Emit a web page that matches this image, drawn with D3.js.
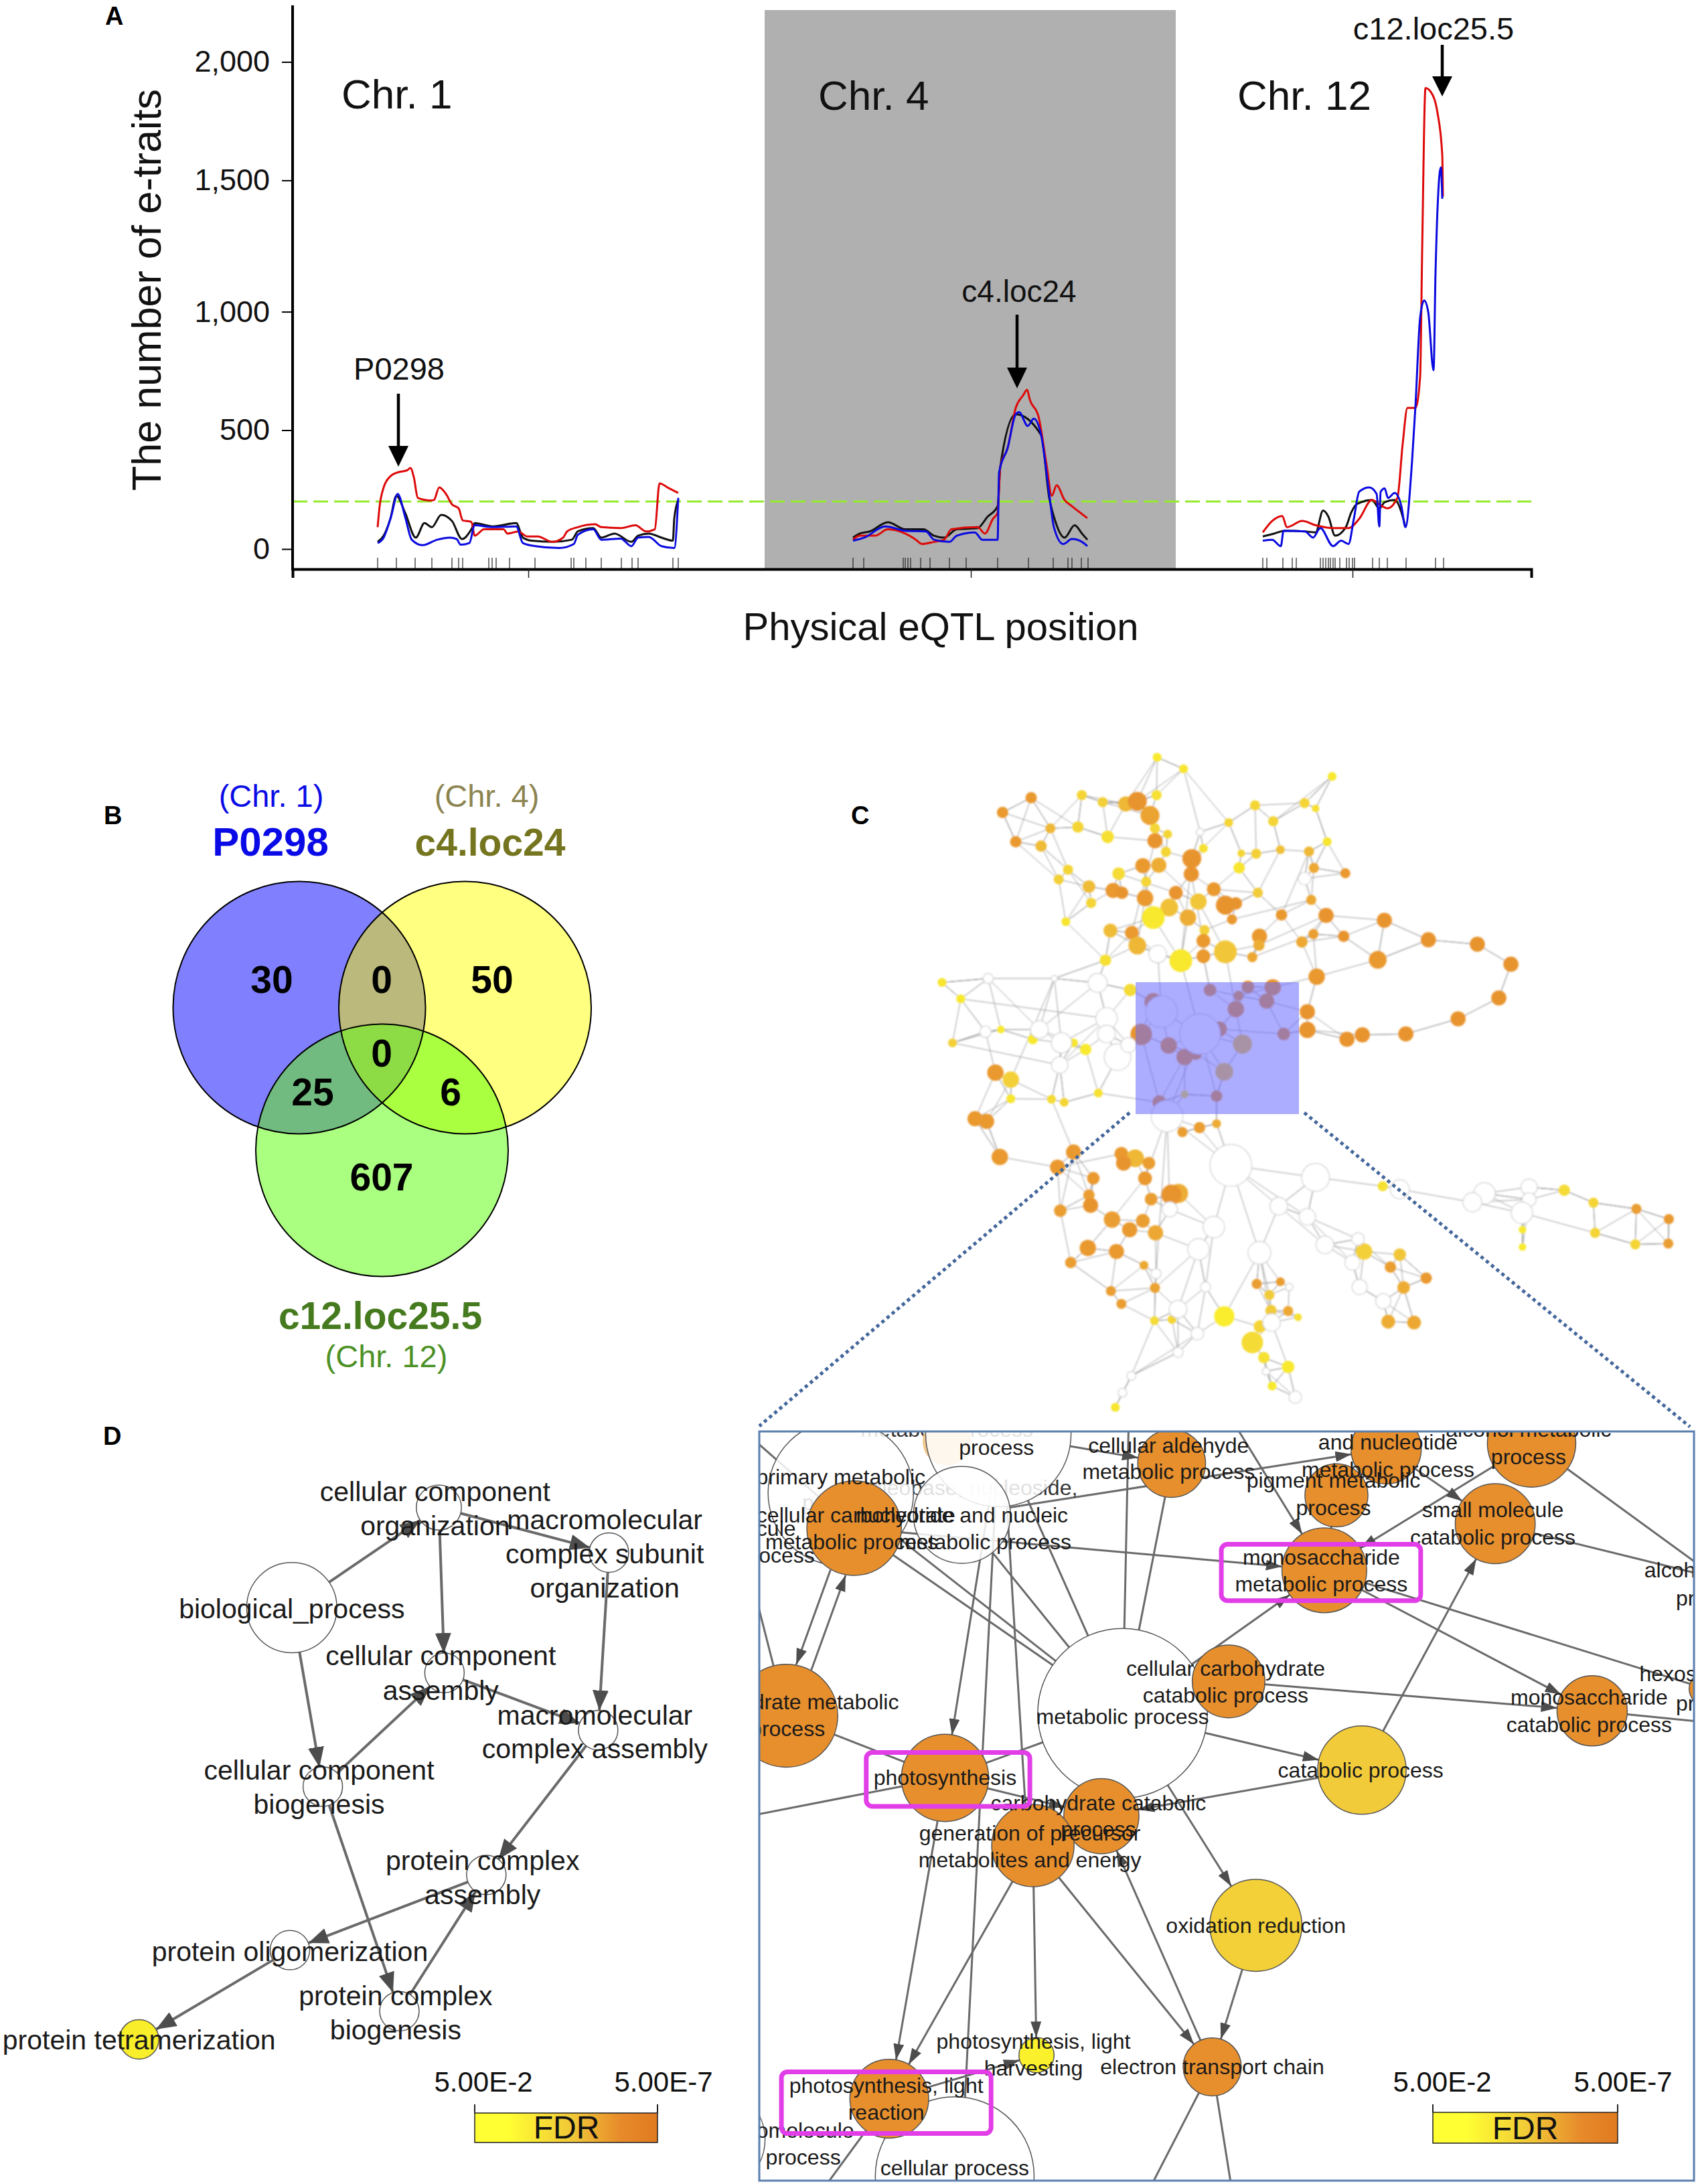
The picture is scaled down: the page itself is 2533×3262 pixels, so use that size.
<!DOCTYPE html>
<html><head><meta charset="utf-8">
<script src="https://cdn.jsdelivr.net/npm/d3@7"></script>
<style>html,body{margin:0;padding:0;background:#fff}svg{display:block}text{font-family:"Liberation Sans",Arial,sans-serif}</style>
</head><body><svg id="chart" width="2533" height="3262"></svg>
<script>
// ---------- Panel A data ----------
const yTicks=[0,500,1000,1500,2000];
const threshold=200;
const chr1RedPos=[127,130,136,146,159,171,176,181,187,206,211,219,229,238,248,254,267,272,286,315,321,337,350,366,388,404,410,426,452,461,490,512,528,541,548,560,576];
const chr1Red=[92,180,259,306,324,331,341,303,215,204,206,259,232,188,171,121,114,56,83,83,65,74,53,53,30,48,74,92,104,92,88,100,74,83,276,259,236];
const chr1BlackPos=[127,136,146,155,168,184,197,208,222,238,253,267,272,299,334,344,357,388,417,426,449,461,481,506,516,532,551,568,570,576];
const chr1Black=[30,56,127,224,153,48,109,92,144,118,42,83,109,95,109,48,35,30,39,74,88,48,65,30,56,65,48,35,127,206];
const chr1BluePos=[127,136,147,157,168,178,194,216,235,245,251,264,272,299,334,344,363,398,420,426,449,461,490,506,516,532,551,570,576];
const chr1Blue=[25,48,136,232,136,39,16,39,48,42,18,25,100,92,95,25,12,4,21,60,83,39,44,12,48,51,12,4,215];
const chr4RedPos=[837,847,870,889,915,931,940,958,973,984,1023,1034,1046,1053,1057,1068,1080,1091,1097,1101,1114,1126,1134,1141,1153,1164,1187];
const chr4Red=[39,56,56,83,65,39,21,30,39,83,92,65,127,153,347,426,594,647,670,629,558,356,224,268,206,180,130];
const chr4BlackPos=[837,847,862,889,915,942,958,973,992,1023,1038,1053,1057,1080,1118,1130,1137,1153,1168,1179,1187];
const chr4Black=[48,65,74,113,83,83,56,48,83,88,136,180,347,567,479,215,136,48,100,65,39];
const chr4BluePos=[837,854,885,915,946,958,981,992,1019,1030,1053,1055,1068,1080,1085,1098,1107,1118,1130,1137,1151,1164,1179,1187];
const chr4Blue=[35,48,95,77,74,39,30,56,70,39,39,320,426,567,576,518,549,479,232,92,21,42,30,12];
const chr12RedPos=[1449,1463,1478,1485,1508,1528,1554,1577,1593,1612,1623,1635,1650,1658,1665,1677,1684,1687,1692,1700,1710,1717,1718];
const chr12Red=[70,118,139,92,118,100,88,88,127,206,188,171,215,444,594,594,726,1231,1890,1873,1784,1608,1438];
const chr12BlackPos=[1449,1466,1482,1512,1528,1539,1547,1557,1573,1581,1589,1612,1623,1631,1646,1658,1662];
const chr12Black=[53,65,77,74,70,162,136,56,92,153,188,206,171,197,206,136,92];
const chr12BluePos=[1449,1463,1476,1480,1512,1524,1535,1554,1566,1577,1585,1593,1608,1619,1623,1625,1631,1636,1646,1656,1662,1672,1677,1684,1690,1696,1704,1707,1715,1717];
const chr12Blue=[35,39,12,77,74,48,88,12,35,21,127,241,259,232,95,241,255,215,236,180,92,373,602,976,1043,1000,753,1151,1555,1430];
const markerPos=[127,155,183,208,238,248,254,293,298,304,324,362,416,420,438,461,491,507,516,568,576,
 837,853,912,915,919,923,938,952,981,1006,1053,1099,1136,1158,1164,1178,1188,
 1449,1455,1479,1493,1499,1535,1539,1543,1547,1550,1554,1557,1564,1574,1578,1583,1586,1613,1623,1635,1663,1707,1719];
const chrBoundaryTicks=[352,1013,1583];
const chrLabels=["Chr. 1","Chr. 4","Chr. 12"];

// ---------- Panel B data ----------
const vennSets=["P0298","c4.loc24","c12.loc25.5"];
const vennChr=["(Chr. 1)","(Chr. 4)","(Chr. 12)"];
const vennCounts=[30,50,607,0,25,6,0];

// ---------- Panel C data: x, y, radius, FDR level (0 = 5E-2, 1 = 5E-7) ----------
const cColored=[[582,47,7,.1],[630,73,7,.15],[900,90,7,.1],[353,138,9,.9],[301,171,9,.9],[445,132,8,.3],[483,148,8,.35],[525,152,12,.6],[546,146,15,.95],[581,132,8,.2],[569,178,15,.8],[760,155,8,.3],[850,150,8,.3],[870,162,6,.2],[712,194,7,.3],[793,191,8,.3],[388,207,8,.6],[438,204,9,.3],[578,207,8,.3],[601,220,7,.3],[492,226,10,.2],[578,235,12,.95],[325,237,9,.9],[371,247,9,.55],[891,237,7,.15],
[598,260,8,.3],[666,252,7,.2],[735,263,6,.3],[762,264,8,.35],[806,255,7,.5],[858,259,8,.6],[645,275,15,.95],[556,291,12,.9],[585,290,12,.7],[731,296,9,.15],[867,296,8,.75],[924,308,8,.9],[420,300,8,.3],[403,322,8,.35],[512,309,10,.25],[644,310,12,.95],[562,327,8,.3],[458,338,10,.55],[502,347,12,.9],[518,352,10,.95],[616,352,11,.95],[685,344,11,.9],[765,352,8,.4],[862,368,8,.75],[560,364,13,.9],[462,375,8,.3],[657,372,13,.45],[706,380,15,.95],[725,376,10,.95],[604,385,14,.5],[575,408,18,.1],[638,408,13,.7],[718,412,8,.9],[808,402,9,.9],[889,403,12,.95],[416,417,7,.15],[995,414,12,.95],[497,437,11,.55],[536,442,11,.9],[668,436,8,.35],[768,450,12,.9],[866,445,8,.85],[921,450,9,.95],[666,460,11,.9],[767,470,9,.7],[845,463,9,.75],[546,471,14,.6],[1075,458,12,.95],[1164,468,12,.95],[706,485,18,.45],[755,497,8,.75],[666,495,11,.9],[625,505,18,.12],[488,504,9,.2],[1225,513,12,.95],[983,503,14,.9],[872,541,13,.9],[533,571,10,.25],[191,554,7,.15],[225,591,7,.1],
[575,598,14,.95],[678,571,10,.95],[747,564,10,.95],[730,584,8,.9],[792,565,13,.95],[781,596,12,.95],[725,614,13,.95],[553,671,17,.95],[695,659,12,.95],[812,670,10,.95],[603,696,13,.95],[737,693,15,.45],[632,722,13,.95],[652,714,10,.95],[704,755,14,.45],[632,806,6,.2],[690,810,9,.95],[586,824,11,.95],
[855,620,12,.95],[855,661,13,.95],[927,682,12,.95],[955,672,12,.95],[1034,670,12,.95],[1129,636,12,.95],[1203,589,12,.95],
[298,660,6,.1],[210,690,7,.35],[356,682,8,.1],[430,690,7,.15],[452,705,9,.1],[288,757,13,.9],[316,773,13,.35],[316,816,7,.15],[390,817,7,.25],[413,824,7,.3],[475,803,7,.2],[251,861,12,.9],[272,867,12,.9],[296,947,13,.9],[430,936,12,.9],[401,970,12,.9],[517,940,11,.9],[542,950,14,.6],[521,961,12,.95],[567,961,10,.85],[466,995,10,.9],[560,995,11,.9],[628,891,8,.85],[659,881,9,.85],[690,872,7,.7],[458,1033,9,.85],[461,1056,12,.95],[406,1068,10,.85],[571,1042,10,.85],[621,1029,15,.7],[608,1032,16,.95],[500,1088,13,.85],[556,1091,11,.85],[532,1111,12,.9],[579,1118,12,.75],[456,1152,13,.9],[508,1160,12,.9],[425,1185,9,.85],[558,1191,7,.75],[498,1249,8,.85],[578,1242,8,.8],[517,1278,8,.85],
[577,1316,7,.25],[609,1313,7,.3],[704,1306,16,.05],[769,1329,10,.3],[755,1365,17,.25],[776,1399,9,.2],[820,1420,10,.1],[791,1463,7,.1],[506,1511,7,.15],[763,1233,8,.85],[806,1228,7,.85],[786,1258,8,.4],[789,1293,9,.4],[820,1294,8,.75],[838,1308,6,.2],
[958,1160,13,.35],[1023,1167,10,.45],[1006,1195,9,.85],[1071,1220,9,.9],[1030,1241,10,.7],[1002,1318,11,.7],[1049,1320,11,.75],[992,1013,8,.2],[1322,1022,9,.25],[1375,1050,8,.3],[1453,1064,8,.85],[1512,1087,8,.9],[1378,1118,8,.3],[1451,1144,8,.3],[1511,1142,8,.85],[1246,1111,6,.1],[1246,1150,6,.1]];
const cWhite=[[716,966,33],[870,993,22],[1177,1029,17],[1155,1049,15],[1258,1015,13],[1258,1043,11],[1245,1073,17],[1023,1020,15],[803,1058,14],[855,1082,13],[685,1105,17],[657,1155,17],[768,1163,18],[887,1145,14],[947,1132,10],[937,1185,12],[950,1240,12],[993,1272,12],[510,722,21],[490,635,17],[474,555,15],[368,660,14],[408,690,16],[405,740,13],[490,670,14],[530,695,12],[270,665,9],[275,545,8],[395,545,5],[620,1290,14],[655,1345,10],[620,1387,8],[535,1440,7],[519,1478,7],[833,1488,10],[780,1430,6],[790,1320,14],[600,855,25],[660,215,6],[670,1240,8],[605,1065,12],[580,1210,8],[822,1240,6],[850,320,10],[583,490,14],[660,670,32],[590,620,25]];
// chains of connected nodes; each point snaps to its node
const cChains=[
[[716,966],[685,1105],[657,1155],[578,1242],[498,1249],[517,1278]],[[716,966],[768,1163],[763,1233],[786,1258],[789,1293],[769,1329],[755,1365],[776,1399],[791,1463]],[[716,966],[803,1058],[887,1145],[958,1160],[1023,1167],[1071,1220],[1030,1241],[1049,1320]],[[716,966],[870,993],[992,1013],[1023,1020],[1155,1049],[1177,1029],[1258,1015],[1322,1022],[1375,1050],[1453,1064],[1512,1087],[1511,1142],[1451,1144],[1378,1118],[1245,1073],[1258,1043],[1177,1029]],[[1245,1073],[1246,1111],[1246,1150]],[[716,966],[600,855]],[[716,966],[690,872]],
[[855,1082],[947,1132],[1006,1195],[1030,1241]],[[716,966],[855,1082],[937,1185],[950,1240],[993,1272],[1002,1318]],[[768,1163],[704,1306]],[[790,1320],[820,1420],[833,1488]],[[768,1163],[790,1320]],
[[657,1155],[620,1290],[620,1387],[535,1440],[519,1478],[506,1511]],[[655,1345],[535,1440]],[[577,1316],[535,1440]],[[685,1105],[670,1240],[655,1345]],[[600,855],[580,1210],[577,1316]],[[600,855],[605,1065],[579,1118]],[[600,855],[560,995],[500,1088],[456,1152],[425,1185],[498,1249]],[[406,1068],[425,1185]],[[406,1068],[430,936],[390,817]],[[413,824],[405,740],[408,690]],[[296,947],[401,970],[517,940]],[[251,861],[288,757],[316,773],[272,867],[296,947]],
[[582,47],[630,73],[660,215],[645,275]],[[582,47],[525,152]],[[900,90],[850,150],[870,162],[891,237],[858,259],[867,296],[924,308]],[[900,90],[793,191]],[[712,194],[760,155],[850,150]],[[630,73],[712,194],[645,275]],[[353,138],[301,171],[325,237],[403,322]],[[353,138],[438,204],[492,226],[578,235]],[[445,132],[483,148],[569,178],[598,260]],[[445,132],[388,207],[420,300],[462,375],[416,417],[488,504],[536,442],[578,235]],[[512,309],[616,352],[638,408],[625,505]],[[556,291],[575,408],[625,505]],[[585,290],[657,372],[706,485]],[[645,275],[625,505]],[[644,310],[666,460]],[[497,437],[575,408]],[[560,364],[546,471],[625,505],[660,670]],[[767,470],[889,403],[995,414]],[[845,463],[921,450]],[[755,497],[866,445]],[[808,402],[858,259]],[[685,344],[765,352]],[[718,412],[862,368]],[[762,264],[685,344]],[[806,255],[765,352],[725,376]],[[706,485],[725,614]],[[555,500],[590,620]],[[666,495],[678,571]],
[[191,554],[275,545],[395,545],[474,555],[533,571]],[[225,591],[490,635]],[[191,554],[225,591]],[[275,545],[368,660]],[[210,690],[270,665],[298,660],[368,660]],[[210,690],[405,740]],[[488,504],[395,545],[408,690]],[[474,555],[368,660]],[[490,635],[408,690]],[[490,635],[405,740],[390,817]],[[510,722],[475,803],[586,824]],[[395,545],[316,773]],[[316,816],[316,773]],
[[590,620],[575,598]],[[590,620],[553,671]],[[590,620],[660,670],[695,659]],[[660,670],[737,693]],[[660,670],[603,696]],[[660,670],[632,722]],[[660,670],[704,755]],[[632,722],[586,824]],[[632,722],[632,806]],[[690,810],[704,755]],[[660,670],[690,810]],[[553,671],[586,824]],[[725,614],[695,659],[812,670],[855,661]],[[781,596],[855,620]],[[792,565],[872,541],[983,503],[1075,458]],[[660,670],[600,855]]];

// ---------- Panel D data ----------
const dNodes=[["bp",621,429,96,null],["cco",934,216,48,null],["mcso",1296,312,42,null],["cca",946,568,42,null],["mca",1273,690,42,null],["ccb",687,810,42,null],["pca",1035,998,42,null],["po",617,1158,42,null],["pcb",850,1288,42,null],["pt",296,1348,42,0]];
const dEdges=[["bp","cco"],["bp","ccb"],["cco","mcso"],["cco","cca"],["mcso","mca"],["ccb","cca"],["cca","mca"],["mca","pca"],["pca","po"],["po","pt"],["ccb","pcb"],["pcb","pca"]];
const dLabels=[[["biological_process"],621,[452]],[["cellular component","organization"],926,[203,275]],[["macromolecular","complex subunit","organization"],1287,[262,335,407]],[["cellular component","assembly"],938,[552,625]],[["macromolecular","complex assembly"],1266,[678,750]],[["cellular component","biogenesis"],679,[795,868]],[["protein complex","assembly"],1027,[987,1060]],[["protein oligomerization"],617,[1181]],[["protein complex","biogenesis"],842,[1275,1348]],[["protein tetramerization"],296,[1370]]];

// ---------- Inset data ----------
const iNodes=[["pale",325,45,40,"pale"],["prim",150,150,120,null],["proc",410,30,120,null],["nuc",350,195,80,null],["cell",338,1545,131,null],["macro",-60,1470,85,null],["met",615,600,140,null],
["aldehyde",696,90,56,1],["nucleo",1050,60,58,1],["alcohol",1290,48,73,1],["pigment",968,155,52,1],["small",1230,213,66,1],["monoM",948,308,70,1],["carb",172,222,78,1],["carbM",60,605,85,1],["cellCat",790,535,60,1],["monoC",1390,595,58,1],["photo",322,732,72,1],["carbCat",580,810,62,1],["gen",467,870,68,1],["etc",763,1322,48,1],["light",230,1387,65,1],["cat",1010,716,73,.4],["ox",835,1033,76,.35],["harv",473,1298,29,0],["hexose",1578,550,28,1]];
const iAnchors=[["aL",-10,812],["aB1",660,1570],["aB2",795,1570],["aB3",110,1590],["aTop1",625,10],["aTop2",800,10],["aR1",1575,318],["aR2",1575,618],["aR3",1575,305],["aR4",1580,390],["aLeft",-5,290],["aTL",5,40],["aP1",407,120],["aP2",400,130],["aP3",423,150],["aCellTop",355,1385],["aGenTop",455,795]];
const iEdges=[["met","aldehyde"],["met","aTop1"],["met","proc"],["met","nuc"],["met","prim"],["met","carb"],["met","cat",1],["cat","carbCat",1],["met","ox",1],["ox","etc",1],["gen","etc",1],["gen","harv",1],["gen","light",1],["photo","light",1],["etc","carbCat",1],["etc","aB1"],["etc","aB2"],["cellCat","monoC",1],["met","monoM",1],["carb","monoM",1],["cat","small",1],["monoM","monoC",1],["monoM","hexose"],["pigment","monoM",1],["aTop2","monoM",1],["alcohol","monoM",1],["monoC","aR2"],["small","aR1"],["alcohol","aR3"],["aR4","hexose",1],["nucleo","small",1],["nuc","nucleo",1],["proc","aldehyde",1],["aP2","photo",1],["aP1","aCellTop"],["aP3","aGenTop"],["carb","carbM",1,12],["carbM","carb",1,12],["aLeft","carbM"],["carbM","photo"],["aL","photo"],["photo","met"],["photo","carbCat",1],["light","harv",1],["aB3","light"],["aTL","carb"]];
const iFaded=[["metabolic process",325,36],["nucleobase, nucleoside,",351,155],["process",148,185]];
const iLabels=[["metabolic process",615,622],["process",407,72],["primary metabolic",150,132],["nucleotide and nucleic",350,210],["metabolic process",388,265],["cellular carbohydrate",175,210],["metabolic process",168,265],["molecule",5,238],["process",45,292],["cellular aldehyde",691,68],["metabolic process",691,122],["and nucleotide",1053,62],["metabolic process",1053,118],["alcohol metabolic",1285,36],["process",1285,92],["pigment metabolic",963,140],["process",963,196],["small molecule",1226,200],["catabolic process",1226,255],["monosaccharide",943,297],["metabolic process",943,351],["alcohol",1532,322],["process",1590,380],["hexose",1525,535],["process",1590,595],["cellular carbohydrate",785,523],["catabolic process",785,578],["monosaccharide",1385,582],["catabolic process",1385,638],["carbohydrate metabolic",62,592],["process",62,647],["catabolic process",1008,732],["photosynthesis",322,747],["carbohydrate catabolic",575,798],["process",575,852],["generation of precursor",462,860],["metabolites and energy",462,915],["oxidation reduction",835,1048],["photosynthesis, light",468,1285],["harvesting",468,1340],["electron transport chain",763,1337],["photosynthesis, light",225,1375],["reaction",225,1430],["macromolecule",52,1467],["process",88,1522],["cellular process",338,1543]];
const iHighlights=[[778,255,1107,370],[192,680,462,790],[52,1332,398,1458]];
const fdrLabels=["5.00E-2","5.00E-7"];

// ---------- helpers ----------
const svg=d3.select("#chart");
const defs=svg.append("defs");
const fdrColor=d3.scaleLinear().domain([0,.12,.4,1]).range(["#faf02c","#f8e82e","#f2cb3a","#e78f2d"]);
const grad=defs.append("linearGradient").attr("id","fdrGrad");
[[0,"#ffff33"],[.18,"#ffff33"],[.55,"#f0c437"],[.8,"#e78a2a"],[1,"#e07a20"]].forEach(s=>grad.append("stop").attr("offset",s[0]).attr("stop-color",s[1]));
function txt(g,s,x,y,size,opt={}){return g.append("text").attr("x",x).attr("y",y).attr("font-size",size).attr("text-anchor",opt.anchor||"start").attr("font-weight",opt.bold?"bold":"normal").attr("fill",opt.fill||"#000").text(s);}

// ---------- Panel A ----------
const gA=svg.append("g");
const xA=d3.scaleLinear().domain([0,1850]).range([437,2287]);
const yA=d3.scaleLinear().domain(yTicks).range([820,642.5,465.6,269.4,92.5]);
const axisY=850;
gA.append("rect").attr("x",xA(705)).attr("y",15).attr("width",xA(1319)-xA(705)).attr("height",axisY-15).attr("fill","#b0b0b0");
gA.append("line").attr("x1",xA(0)).attr("x2",xA(1850)).attr("y1",yA(threshold)).attr("y2",yA(threshold)).attr("stroke","#95ea2e").attr("stroke-width",3).attr("stroke-dasharray","22,9");
const lineA=d3.line().x(d=>xA(d[0])).y(d=>yA(d[1])).curve(d3.curveMonotoneX);
const seriesA=[[chr1BlackPos,chr1Black,"#111"],[chr4BlackPos,chr4Black,"#111"],[chr12BlackPos,chr12Black,"#111"],[chr1RedPos,chr1Red,"#dd0a0a"],[chr4RedPos,chr4Red,"#dd0a0a"],[chr12RedPos,chr12Red,"#dd0a0a"],[chr1BluePos,chr1Blue,"#0a0ae0"],[chr4BluePos,chr4Blue,"#0a0ae0"],[chr12BluePos,chr12Blue,"#0a0ae0"]];
seriesA.forEach(s=>gA.append("path").attr("d",lineA(d3.zip(s[0],s[1]))).attr("fill","none").attr("stroke",s[2]).attr("stroke-width",3).attr("stroke-linejoin","round"));
gA.selectAll("line.mk").data(markerPos).join("line").attr("class","mk").attr("x1",d=>xA(d)).attr("x2",d=>xA(d)).attr("y1",833).attr("y2",axisY).attr("stroke","#222").attr("stroke-width",1.2);
const ay=gA.append("g").attr("transform","translate(437,0)").call(d3.axisLeft(yA).tickValues(yTicks).tickFormat(d3.format(",")).tickSize(16).tickPadding(18));
ay.select(".domain").remove();
ay.selectAll(".tick line").attr("stroke","#000").attr("stroke-width",2);
ay.selectAll("text").attr("font-size",45).attr("fill","#111").style("font-family",'"Liberation Sans",Arial,sans-serif');
gA.append("line").attr("x1",437).attr("x2",437).attr("y1",8).attr("y2",axisY+2).attr("stroke","#000").attr("stroke-width",4);
const ax=gA.append("g").attr("transform",`translate(0,${axisY})`).call(d3.axisBottom(xA).tickValues(chrBoundaryTicks).tickFormat("").tickSize(13));
ax.select(".domain").attr("stroke","#000").attr("stroke-width",4);
ax.selectAll(".tick line").attr("stroke","#222").attr("stroke-width",1.5);
gA.append("text").attr("transform","translate(240,433) rotate(-90)").attr("text-anchor","middle").attr("font-size",61).attr("fill","#111").text("The number of e-traits");
txt(gA,"Physical eQTL position",1405,956,58,{anchor:"middle",fill:"#111"});
txt(gA,"A",157,37,38,{bold:true});
txt(gA,chrLabels[0],510,162,62,{fill:"#111"});
txt(gA,chrLabels[1],1222,164,62,{fill:"#111"});
txt(gA,chrLabels[2],1848,164,62,{fill:"#111"});
txt(gA,"P0298",596,567,47,{anchor:"middle",fill:"#111"});
txt(gA,"c4.loc24",1522,451,46,{anchor:"middle",fill:"#111"});
txt(gA,"c12.loc25.5",2141,59,47,{anchor:"middle",fill:"#111"});
[[595,588,666,697],[1519,470,549,580],[2154,67,114,144]].forEach(a=>{
 gA.append("line").attr("x1",a[0]).attr("x2",a[0]).attr("y1",a[1]).attr("y2",a[2]).attr("stroke","#000").attr("stroke-width",4.5);
 gA.append("path").attr("d",`M${a[0]-15},${a[2]}L${a[0]+15},${a[2]}L${a[0]},${a[3]}Z`).attr("fill","#000");
});

// ---------- Panel B ----------
const gB=svg.append("g");
const vennGeom=[[447,1505,"#8080ff"],[694.5,1505,"#ffff80"],[570.5,1718,"#aaff80"]];
const rV=188.5;
vennGeom.forEach((c,i)=>defs.append("clipPath").attr("id","v"+i).append("circle").attr("cx",c[0]).attr("cy",c[1]).attr("r",rV));
vennGeom.forEach(c=>gB.append("circle").attr("cx",c[0]).attr("cy",c[1]).attr("r",rV).attr("fill",c[2]));
gB.append("circle").attr("cx",694.5).attr("cy",1505).attr("r",rV).attr("fill","#bcb97d").attr("clip-path","url(#v0)");
gB.append("circle").attr("cx",570.5).attr("cy",1718).attr("r",rV).attr("fill","#72bb80").attr("clip-path","url(#v0)");
gB.append("circle").attr("cx",570.5).attr("cy",1718).attr("r",rV).attr("fill","#aaff40").attr("clip-path","url(#v1)");
gB.append("g").attr("clip-path","url(#v0)").append("circle").attr("cx",570.5).attr("cy",1718).attr("r",rV).attr("fill","#8ddc45").attr("clip-path","url(#v1)");
vennGeom.forEach(c=>gB.append("circle").attr("cx",c[0]).attr("cy",c[1]).attr("r",rV).attr("fill","none").attr("stroke","#000").attr("stroke-width",2));
[[406,1483],[735,1483],[570,1778],[570,1483],[467,1651],[673,1651],[570,1593]].forEach((p,i)=>txt(gB,vennCounts[i],p[0],p[1],57,{anchor:"middle",bold:true}));
txt(gB,vennChr[0],405,1205,47,{anchor:"middle",fill:"#0a0ae6"});
txt(gB,vennSets[0],404,1278,60,{anchor:"middle",bold:true,fill:"#0a0ae6"});
txt(gB,vennChr[1],727,1205,47,{anchor:"middle",fill:"#8c8450"});
txt(gB,vennSets[1],732,1278,57,{anchor:"middle",bold:true,fill:"#757520"});
txt(gB,vennSets[2],568,1985,57,{anchor:"middle",bold:true,fill:"#467a1e"});
txt(gB,vennChr[2],577,2042,47,{anchor:"middle",fill:"#4d9126"});
txt(gB,"B",155,1231,38,{bold:true});

// ---------- Panel C ----------
const gC=svg.append("g");
defs.append("filter").attr("id","soft").append("feGaussianBlur").attr("stdDeviation",.9);
const cX=d=>1250+d/1.217, cY=d=>1100+d/1.508;
const cR=1.15/1.217;
const allC=cColored.map(d=>({zx:d[0],zy:d[1],x:cX(d[0]),y:cY(d[1]),r:d[2]*cR,t:d[3]})).concat(cWhite.map(d=>({zx:d[0],zy:d[1],x:cX(d[0]),y:cY(d[1]),r:d[2]*cR,t:null})));
const links=[];
allC.forEach((a,i)=>{
 d3.range(allC.length).filter(j=>j!==i).map(j=>[j,Math.hypot(allC[j].x-a.x,allC[j].y-a.y)]).sort((p,q)=>p[1]-q[1]).slice(0,3).forEach(p=>{if(p[1]<85)links.push([a,allC[p[0]]]);});
});
const snap=p=>d3.least(allC,n=>Math.hypot(n.zx-p[0],n.zy-p[1]));
cChains.forEach(ch=>d3.pairs(ch).forEach(([a,b])=>links.push([snap(a),snap(b)])));
const netC=gC.append("g").attr("filter","url(#soft)");
netC.selectAll("line").data(links).join("line").attr("x1",d=>d[0].x).attr("y1",d=>d[0].y).attr("x2",d=>d[1].x).attr("y2",d=>d[1].y).attr("stroke","#9c9c9c").attr("stroke-width",1);
netC.selectAll("circle").data(allC).join("circle").attr("cx",d=>d.x).attr("cy",d=>d.y).attr("r",d=>d.r).attr("fill",d=>d.t===null?"#fff":fdrColor(d.t)).attr("stroke",d=>d.t===null?"#ccc":"none").attr("stroke-width",1.2);
gC.append("rect").attr("x",1696).attr("y",1467).attr("width",244).attr("height",197).attr("fill","#6a6aff").attr("fill-opacity",.55);
const dots=[[1687,1662,1134,2130],[1948,1662,2524,2131]];
dots.forEach(d=>gC.append("line").attr("x1",d[0]).attr("y1",d[1]).attr("x2",d[2]).attr("y2",d[3]).attr("stroke","#44679c").attr("stroke-width",5).attr("stroke-dasharray","5,5"));
txt(gC,"C",1271,1231,38,{bold:true});

// ---------- Inset ----------
const gI=svg.append("g");
const iX=d=>1120+d/1.105, iY=d=>2120+d/1.367;
defs.append("clipPath").attr("id","insetClip").append("rect").attr("x",1134).attr("y",2138).attr("width",1396).attr("height",1119);
const iBody=gI.append("g").attr("clip-path","url(#insetClip)");
function arrowMarker(id,len,wid,color){
 defs.append("marker").attr("id",id).attr("markerUnits","userSpaceOnUse").attr("markerWidth",len).attr("markerHeight",wid).attr("refX",len).attr("refY",wid/2).attr("orient","auto").append("path").attr("d",`M0,0L${len},${wid/2}L0,${wid}Z`).attr("fill",color);
}
arrowMarker("arrI",24,16,"#4d4d4d");
arrowMarker("arrD",30,24,"#4d4d4d");
const iPos={};
iNodes.forEach(d=>iPos[d[0]]={x:iX(d[1]),y:iY(d[2]),r:d[3]/1.105});
iAnchors.forEach(d=>iPos[d[0]]={x:iX(d[1]),y:iY(d[2]),r:0});
function edgeLine(g,s,t,arrow,off,stroke,w,mid){
 const dx=t.x-s.x,dy=t.y-s.y,L=Math.hypot(dx,dy),ux=dx/L,uy=dy/L,o=off||0;
 const l=g.append("line").attr("x1",s.x+ux*s.r-uy*o).attr("y1",s.y+uy*s.r+ux*o).attr("x2",t.x-ux*t.r-uy*o).attr("y2",t.y-uy*t.r+ux*o).attr("stroke",stroke).attr("stroke-width",w);
 if(arrow)l.attr("marker-end",`url(#${mid})`);
}
iEdges.forEach(e=>edgeLine(iBody,iPos[e[0]],iPos[e[1]],e[2],e[3],"#6a6a6a",3,"arrI"));
const iTxt=(g,d,fill)=>txt(g,d[0],iX(d[1]),iY(d[2]),32,{anchor:"middle",fill});
iFaded.forEach(d=>iTxt(iBody,d,"#333"));
iBody.selectAll("circle").data(iNodes).join("circle").attr("cx",d=>iX(d[1])).attr("cy",d=>iY(d[2])).attr("r",d=>d[3]/1.105)
 .attr("fill",d=>d[4]==="pale"?"#f3c990":d[4]===null?"#fff":fdrColor(d[4])).attr("fill-opacity",d=>d[4]===null?.85:1)
 .attr("stroke",d=>d[4]==="pale"?"none":"#555").attr("stroke-width",1.5);
iLabels.forEach(d=>iTxt(iBody,d,"#1a1a1a"));
iHighlights.forEach(h=>iBody.append("rect").attr("x",iX(h[0])).attr("y",iY(h[1])).attr("width",iX(h[2])-iX(h[0])).attr("height",iY(h[3])-iY(h[1])).attr("rx",9).attr("fill","none").attr("stroke","#e23ee8").attr("stroke-width",7));
gI.append("rect").attr("x",1134).attr("y",2138).attr("width",1396).attr("height",1119).attr("fill","none").attr("stroke","#5a7fae").attr("stroke-width",3);

function legend(x0,x1,yTop,yBot,ticksTop,l1,l2,base,fx,fb){
 const g=svg.append("g");
 g.append("rect").attr("x",x0).attr("y",yTop).attr("width",x1-x0).attr("height",yBot-yTop).attr("fill","url(#fdrGrad)").attr("stroke","#222").attr("stroke-width",1.5);
 [x0,x1].forEach(x=>g.append("line").attr("x1",x).attr("x2",x).attr("y1",ticksTop).attr("y2",yTop).attr("stroke","#222").attr("stroke-width",2));
 txt(g,fdrLabels[0],l1,base,42,{anchor:"middle",fill:"#111"});
 txt(g,fdrLabels[1],l2,base,42,{anchor:"middle",fill:"#111"});
 txt(g,"FDR",fx,fb,48,{anchor:"middle",fill:"#111"});
}
legend(2140,2416,3155,3201,3143,2154,2424,3124,2278,3195);
legend(709,982,3156,3200,3143,722,991,3124,846,3194);

// ---------- Panel D ----------
const gD=svg.append("g");
const dX=d=>d/1.425, dY=d=>2100+d/1.425;
const dPos={};
dNodes.forEach(d=>dPos[d[0]]={x:dX(d[1]),y:dY(d[2]),r:d[3]/1.425});
dEdges.forEach(e=>edgeLine(gD,dPos[e[0]],dPos[e[1]],true,0,"#6a6a6a",4,"arrD"));
gD.selectAll("circle").data(dNodes).join("circle").attr("cx",d=>dX(d[1])).attr("cy",d=>dY(d[2])).attr("r",d=>d[3]/1.425).attr("fill",d=>d[4]===null?"#fff":"#f9ee2a").attr("stroke","#555").attr("stroke-width",1.5);
dLabels.forEach(l=>l[0].forEach((s,i)=>txt(gD,s,dX(l[1]),dY(l[2][i]),41,{anchor:"middle",fill:"#1a1a1a"})));
txt(gD,"D",154,2158,38,{bold:true});
</script></body></html>
